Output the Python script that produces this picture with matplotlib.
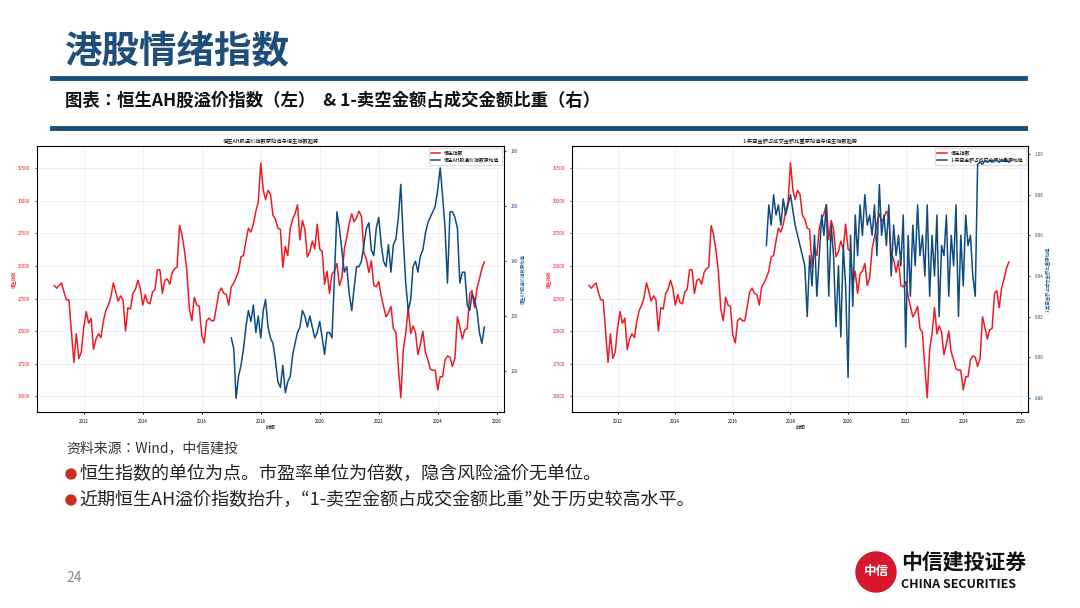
import matplotlib.pyplot as plt
import matplotlib.patches as mpatches
import matplotlib.dates as mdates
import pandas as pd

plt.rcParams['font.family'] = ['Noto Sans CJK JP', 'Noto Sans CJK SC', 'DejaVu Sans']
plt.rcParams['axes.unicode_minus'] = False

# 恒生指数 (monthly, estimated)
hsi_dates = pd.date_range('2011-01-01', '2025-08-01', freq='MS')
hsi_values = [
    23500, 23300, 23500, 23700, 23000, 22400, 22400, 20000, 17600, 19800, 17900, 18400,
    20300, 21500, 20600, 21000, 18600, 19400, 19800, 19500, 20800, 21600, 22000, 22600,
    23700, 23000, 22300, 22700, 22400, 20000, 21800, 21700, 22900, 23200, 23900, 23300,
    22000, 22800, 22200, 22100, 23000, 23200, 24700, 24700, 22900, 23900, 24000, 23600,
    24500, 24800, 24900, 28100, 27400, 26200, 24600, 21700, 20800, 22600, 22000, 21900,
    19700, 19100, 20800, 21000, 20800, 20800, 21900, 23000, 23300, 22900, 22800, 22000,
    23400, 23700, 24100, 24600, 25700, 25800, 26900, 27900, 27600, 28200, 29200, 29900,
    32900, 30800, 30100, 30800, 30500, 28900, 28600, 27900, 27800, 24900, 26500, 25800,
    27900, 28600, 29000, 29700, 27000, 28500, 27800, 25700, 26100, 26900, 26300, 28200,
    26300, 26100, 23600, 24600, 22900, 24400, 24600, 25200, 23500, 24100, 26300, 27200,
    28300, 29000, 28400, 28700, 29200, 28800, 26000, 25500, 24500, 25400, 23500, 23400,
    23800, 22700, 21900, 21100, 21400, 21900, 20200, 19900, 17200, 14900, 18600, 19800,
    21800, 19800, 20400, 19900, 18200, 19000, 20000, 18400, 17800, 17100, 17000, 17000,
    15500, 16500, 16500, 17800, 18100, 18000, 17300, 17900, 21100, 20300, 19400, 20100,
    20200, 22900, 23100, 21800, 23300, 24000, 24800, 25300,
]

# 恒生AH股溢价指数原始值 (monthly, estimated)
ah_dates = pd.date_range('2017-01-01', '2025-08-01', freq='MS')
ah_values = [
    126, 124, 115, 119, 121, 124, 128, 131, 129, 132, 127, 130,
    126, 131, 133, 128, 126, 125, 122, 118, 117, 121, 116, 118,
    119, 123, 125, 127, 128, 131, 130, 128, 130, 128, 126, 127,
    129, 126, 123, 127, 127, 126, 137, 149, 146, 142, 138, 139,
    134, 131, 135, 139, 139, 140, 143, 146, 147, 142, 141, 146,
    148, 143, 140, 139, 143, 138, 143, 144, 148, 154, 144, 136,
    131, 133, 139, 140, 138, 141, 142, 145, 147, 148, 149, 150,
    153, 157, 152, 146, 136, 149, 149, 148, 146, 136, 138, 138,
    132, 131, 134, 133, 131, 127, 125, 128,
]

# 1-卖空金额占成交金额比重原始值 (monthly, estimated)
short_dates = pd.date_range('2017-03-01', '2025-09-01', freq='MS')
short_values = [
    .955, .975, .965, .980, .970, .975, .965, .978, .970, .975,
    .980, .972, .965, .960, .955, .950, .945, .920, .950, .935, .960, .930,
    .950, .970, .960, .975, .930, .965, .950, .915, .945, .910, .955, .935,
    .890, .960, .925, .970, .950, .975, .960, .980, .965, .970, .960, .975,
    .950, .985, .960, .970, .955, .975, .940, .965, .950, .960, .945, .970,
    .905, .960, .930, .965, .945, .975, .950, .960, .940, .975, .930, .960,
    .940, .970, .920, .955, .950, .970, .930, .960, .945, .975, .920, .960,
    .935, .970, .955, .960, .940, .930, .995, .996, .995, .997, .996, .997,
    .996, .997, .997, .996, .997, .997, .997, .996, .997,
]

RED = '#ee1c25'
BLUE = '#0f4c81'
W, H = 1080, 608

fig = plt.figure(figsize=(W / 100, H / 100), dpi=100)


def px(x, y, w, h):
    return [x / W, 1 - (y + h) / H, w / W, h / H]


def draw_chart(rect, title, s_dates, s_vals, s_label, s_ticks, s_lim):
    ax = fig.add_axes(px(*rect))
    ax.plot(hsi_dates, hsi_values, color=RED, lw=1.1, label='恒生指数')
    ax.set_ylim(13800, 34200)
    ax.set_yticks(range(15000, 32501, 2500))
    ax.tick_params(axis='y', colors=RED, labelsize=3.2, length=1.5)
    ax.tick_params(axis='x', labelsize=3.2, length=1.5)
    ax.set_ylabel('恒生指数', color=RED, fontsize=3.2, labelpad=1)
    ax.set_xlabel('时间', fontsize=3.5, labelpad=1)
    ax.set_title(title, fontsize=3.8, pad=2)
    ax.set_xlim(pd.Timestamp('2010-06-01'), pd.Timestamp('2026-04-01'))
    ax.xaxis.set_major_locator(mdates.YearLocator(2))
    ax.xaxis.set_major_formatter(mdates.DateFormatter('%Y'))
    ax.grid(color='#e6e6e6', lw=0.4)
    for sp in ax.spines.values():
        sp.set_linewidth(0.5)
        sp.set_color('#555555')
    ax2 = ax.twinx()
    ax2.plot(s_dates, s_vals, color=BLUE, lw=1.1, label=s_label, zorder=6)
    ax2.set_ylim(*s_lim)
    ax2.set_yticks(s_ticks)
    ax2.tick_params(axis='y', colors=BLUE, labelsize=3.2, length=1.5)
    ax2.set_ylabel(s_label, color=BLUE, fontsize=3.2, labelpad=1)
    h1, l1 = ax.get_legend_handles_labels()
    h2, l2 = ax2.get_legend_handles_labels()
    leg = ax2.legend(h1 + h2, l1 + l2, loc='upper right', fontsize=3.5, frameon=True,
                     framealpha=0.9, edgecolor='#dddddd', handlelength=2)
    leg.set_zorder(3)
    return ax


draw_chart((37, 146, 467, 266), '恒生AH股溢价指数原始值与恒生指数趋势',
           ah_dates, ah_values, '恒生AH股溢价指数原始值', [120, 130, 140, 150, 160], (112.5, 161))
draw_chart((572, 146, 456, 266), '1-卖空金额占成交金额比重原始值与恒生指数趋势',
           short_dates, short_values, '1-卖空金额占成交金额比重原始值',
           [0.88, 0.90, 0.92, 0.94, 0.96, 0.98, 1.00], (0.873, 1.004))

# slide decorations
fig.text(65 / W, 1 - 52 / H, '港股情绪指数', fontsize=27, fontweight='bold',
         color='#1f4e79', va='center')
for yy in (78, 128):
    fig.add_artist(plt.Line2D([52 / W, 1025 / W], [1 - yy / H] * 2, color='#1a4f7a', lw=3.5))
fig.text(65 / W, 1 - 101 / H, '图表：恒生AH股溢价指数（左）  & 1-卖空金额占成交金额比重（右）',
         fontsize=12.5, fontweight='bold', color='#111111', va='center')
fig.text(66 / W, 1 - 448 / H, '资料来源：Wind，中信建投', fontsize=10, style='italic',
         color='#333333', va='center')
bullets = ['恒生指数的单位为点。市盈率单位为倍数，隐含风险溢价无单位。',
           '近期恒生AH溢价指数抬升，“1-卖空金额占成交金额比重”处于历史较高水平。']
for i, b in enumerate(bullets):
    yy = 1 - (474 + 26 * i) / H
    fig.add_artist(mpatches.Ellipse((71 / W, yy), 10 / W, 10 / H, color='#c8311e',
                                    transform=fig.transFigure))
    fig.text(79 / W, yy, b, fontsize=13, color='#222222', va='center')
fig.text(66 / W, 1 - 578 / H, '24', fontsize=10, color='#888888', va='center')
fig.add_artist(mpatches.Ellipse((876 / W, 1 - 572 / H), 40 / W, 40 / H, color='#d7182a',
                                transform=fig.transFigure))
fig.text(876 / W, 1 - 572 / H, '中信', fontsize=9, color='white', ha='center', va='center',
         fontweight='bold')
fig.text(901 / W, 1 - 563 / H, '中信建投证券', fontsize=15, fontweight='bold',
         color='#111111', va='center')
fig.text(901 / W, 1 - 584 / H, 'CHINA SECURITIES', fontsize=9, fontweight='bold',
         color='#111111', va='center')

fig.savefig('out.png', dpi=100)
